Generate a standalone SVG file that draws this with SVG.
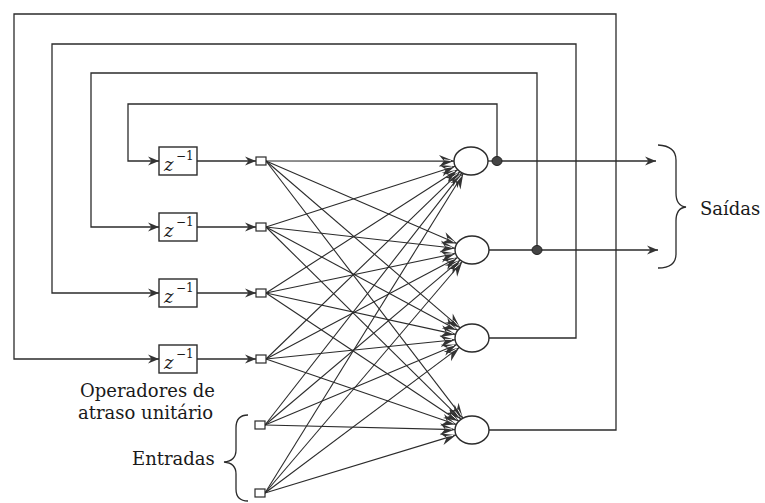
<svg xmlns="http://www.w3.org/2000/svg" width="765" height="503" viewBox="0 0 765 503">
<style>
.ln{fill:none;stroke:#2b2b2b;stroke-width:1.3}
.box{fill:#fff;stroke:#2b2b2b;stroke-width:1.4}
.sq{fill:#fff;stroke:#2b2b2b;stroke-width:1.2}
.neu{fill:#fff;stroke:#2b2b2b;stroke-width:1.4}
.dot{fill:#444;stroke:#222;stroke-width:1}
.t{font-family:"DejaVu Serif","Liberation Serif",serif;font-size:18px;fill:#1a1a1a}
.z{font-family:"DejaVu Serif","Liberation Serif",serif;font-style:italic;font-size:18px;fill:#1a1a1a}
.sup{font-family:"DejaVu Serif","Liberation Serif",serif;font-size:12px;fill:#1a1a1a}
.fan{fill:none;stroke:#2b2b2b;stroke-width:1.1;marker-end:url(#ahn)}
</style>
<defs>
<marker id="ah" viewBox="-12 -6 13 12" refX="0" refY="0" markerWidth="13" markerHeight="12" markerUnits="userSpaceOnUse" orient="auto">
<path d="M-11,-4.5 L0,0 L-11,4.5 L-7.5,0 z" fill="#333"/>
</marker>
<marker id="ahn" viewBox="-16 -8 17 16" refX="0" refY="0" markerWidth="17" markerHeight="16" markerUnits="userSpaceOnUse" orient="auto">
<path d="M-15,-6 L0,0 L-15,6 L-10,0 z" fill="#333"/>
<path d="M-10,-1.4 L-3,-0.4" stroke="#fff" stroke-width="0.9"/>
</marker>
</defs>

<g id="connectors">
<path class="ln" d="M497,161 V104 H128 V161 H159" marker-end="url(#ah)"/>
<path class="ln" d="M537,250 V73 H91 V227 H159" marker-end="url(#ah)"/>
<path class="ln" d="M489,338 H576 V44 H52 V293 H159" marker-end="url(#ah)"/>
<path class="ln" d="M489,430 H616 V14 H14 V359 H159" marker-end="url(#ah)"/>
<path class="ln" d="M197,161 H256" marker-end="url(#ah)"/>
<path class="ln" d="M197,227 H256" marker-end="url(#ah)"/>
<path class="ln" d="M197,293 H256" marker-end="url(#ah)"/>
<path class="ln" d="M197,359 H256" marker-end="url(#ah)"/>
<path class="ln" d="M488,161 H497"/>
<path class="ln" d="M489,250 H537"/>
<path class="ln" d="M497,161 H656" marker-end="url(#ah)"/>
<path class="ln" d="M537,250 H658" marker-end="url(#ah)"/>
<path class="fan" d="M266,161 L454,161.1"/>
<path class="fan" d="M266,227 L455.2,166.2"/>
<path class="fan" d="M266,293 L457.6,169.7"/>
<path class="fan" d="M266,359 L460,171.7"/>
<path class="fan" d="M265,425 L461.9,172.8"/>
<path class="fan" d="M265,493 L463.3,173.5"/>
<path class="fan" d="M266,161 L456.9,243.6"/>
<path class="fan" d="M266,227 L455.1,248.2"/>
<path class="fan" d="M266,293 L455.5,253.5"/>
<path class="fan" d="M266,359 L457.7,257.6"/>
<path class="fan" d="M265,425 L460.2,260.1"/>
<path class="fan" d="M265,493 L462.3,261.5"/>
<path class="fan" d="M266,161 L460.2,327.9"/>
<path class="fan" d="M266,227 L457.8,330.3"/>
<path class="fan" d="M266,293 L455.6,334.4"/>
<path class="fan" d="M266,359 L455.1,339.7"/>
<path class="fan" d="M265,425 L456.9,344.4"/>
<path class="fan" d="M265,493 L459.4,347.4"/>
<path class="fan" d="M266,161 L462.9,418.2"/>
<path class="fan" d="M266,227 L461.1,419.3"/>
<path class="fan" d="M266,293 L458.8,421.2"/>
<path class="fan" d="M266,359 L456.3,424.6"/>
<path class="fan" d="M265,425 L455,429.6"/>
<path class="fan" d="M265,493 L456.1,434.9"/>
</g>

<g id="delay1"><rect class="box" x="159" y="147" width="38" height="28"/><text class="z" x="164" y="171">z</text><text class="sup" x="176" y="160">−1</text></g>
<g id="delay2"><rect class="box" x="159" y="213" width="38" height="28"/><text class="z" x="164" y="237">z</text><text class="sup" x="176" y="226">−1</text></g>
<g id="delay3"><rect class="box" x="159" y="279" width="38" height="28"/><text class="z" x="164" y="303">z</text><text class="sup" x="176" y="292">−1</text></g>
<g id="delay4"><rect class="box" x="159" y="345" width="38" height="28"/><text class="z" x="164" y="369">z</text><text class="sup" x="176" y="358">−1</text></g>

<g id="src1"><rect class="sq" x="256" y="157" width="10" height="8"/></g>
<g id="src2"><rect class="sq" x="256" y="223" width="10" height="8"/></g>
<g id="src3"><rect class="sq" x="256" y="289" width="10" height="8"/></g>
<g id="src4"><rect class="sq" x="256" y="355" width="10" height="8"/></g>
<g id="in1"><rect class="sq" x="255" y="421" width="10" height="8"/></g>
<g id="in2"><rect class="sq" x="255" y="489" width="10" height="8"/></g>

<g id="neuron1"><ellipse class="neu" cx="471" cy="161" rx="17" ry="14"/></g>
<g id="neuron2"><ellipse class="neu" cx="472" cy="250" rx="17" ry="14"/></g>
<g id="neuron3"><ellipse class="neu" cx="472" cy="338" rx="17" ry="14"/></g>
<g id="neuron4"><ellipse class="neu" cx="472" cy="430" rx="17" ry="14"/></g>

<g id="dot1"><ellipse class="dot" cx="497" cy="161" rx="5" ry="4.5"/></g>
<g id="dot2"><ellipse class="dot" cx="537" cy="250" rx="5" ry="4.5"/></g>

<g id="saidas">
<path class="ln" d="M658,145 Q676,146 676,160 V193 Q676,206 686,207 Q676,208 676,221 V254 Q676,268 658,268"/>
<text class="t" x="700" y="215">Saídas</text>
</g>

<g id="operadores">
<text class="t" x="80" y="397">Operadores de</text>
<text class="t" x="78" y="419">atraso unitário</text>
</g>

<g id="entradas">
<path class="ln" d="M248,415 Q236,415 236,428 V450 Q236,461 224,462 Q236,463 236,474 V489 Q236,501 248,501"/>
<text class="t" x="132" y="465">Entradas</text>
</g>
</svg>
